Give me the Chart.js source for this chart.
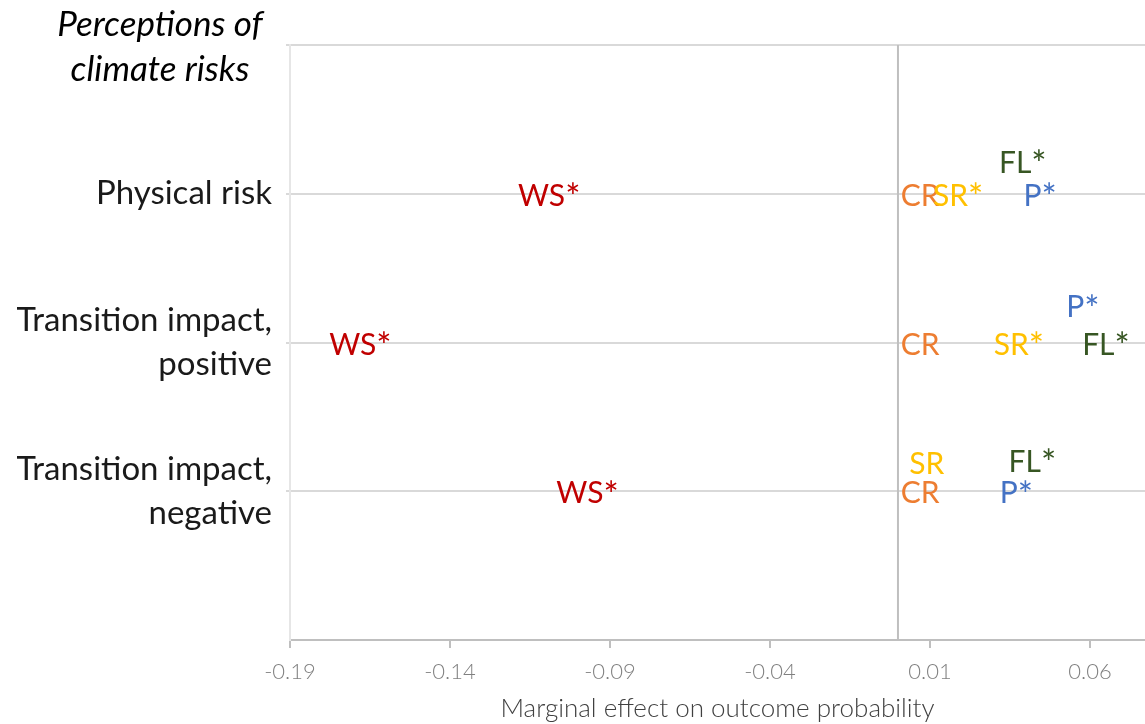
<!DOCTYPE html>
<html>
<head>
  <title>Perceptions of climate risks</title>
  <script src="https://cdn.jsdelivr.net/npm/chart.js"></script>
  <style>
    body { margin: 0; background: #fff; }
  </style>
</head>
<body>
  <canvas id="riskChart" width="1145" height="724"></canvas>
  <script>
    // Categories on the y axis (value -> label)
    const categoryValues = [3, 2, 1];
    const categoryLabels = ['Physical risk', ['Transition impact,', 'positive'], ['Transition impact,', 'negative']];

    // x ticks
    const xTickValues = [-0.19, -0.14, -0.09, -0.04, 0.01, 0.06];
    const xTickLabels = ['-0.19', '-0.14', '-0.09', '-0.04', '0.01', '0.06'];

    // Series (point x, point y, label text)
    const wsX = [-0.109, -0.168, -0.097];
    const wsY = [3, 2, 1];
    const wsText = ['WS*', 'WS*', 'WS*'];

    const crX = [0.0069, 0.0069, 0.0069];
    const crY = [3, 2, 1];
    const crText = ['CR', 'CR', 'CR'];

    const srX = [0.0188, 0.0378, 0.009];
    const srY = [3, 2, 1.2];
    const srText = ['SR*', 'SR*', 'SR'];

    const pX = [0.0444, 0.0578, 0.037];
    const pY = [3, 2.25, 1];
    const pText = ['P*', 'P*', 'P*'];

    const flX = [0.039, 0.065, 0.042];
    const flY = [3.22, 2, 1.21];
    const flText = ['FL*', 'FL*', 'FL*'];

    function points(xs, ys) {
      return xs.map((x, i) => ({ x: x, y: ys[i] }));
    }

    // label text centred on the point, with a larger asterisk
    function drawLabel(ctx, text, x, y, color) {
      const size = 30, starSize = 36;
      const star = text.endsWith('*');
      const base = star ? text.slice(0, -1) : text;
      ctx.font = size + 'px Lato';
      const wBase = ctx.measureText(base).width;
      ctx.font = starSize + 'px Lato';
      const wStar = star ? ctx.measureText('*').width : 0;
      const left = x - (wBase + wStar) / 2;
      const b = y + 12;
      ctx.fillStyle = color;
      ctx.textAlign = 'left';
      ctx.textBaseline = 'alphabetic';
      ctx.font = size + 'px Lato';
      ctx.fillText(base, left, b);
      if (star) {
        ctx.font = starSize + 'px Lato';
        ctx.fillText('*', left + wBase, b + 0.72 * (starSize - size));
      }
    }

    const textLabels = {
      id: 'textLabels',
      afterDatasetsDraw(chart) {
        const ctx = chart.ctx;
        ctx.save();
        chart.data.datasets.forEach((ds, i) => {
          const meta = chart.getDatasetMeta(i);
          meta.data.forEach((pt, j) => drawLabel(ctx, ds.texts[j], pt.x, pt.y, ds.textColor));
        });
        ctx.restore();
      }
    };

    // Zero line and the corner title
    const extras = {
      id: 'extras',
      beforeDatasetsDraw(chart) {
        const ctx = chart.ctx;
        const x0 = chart.scales.x.getPixelForValue(0);
        ctx.save();
        ctx.strokeStyle = '#bfbfbf';
        ctx.lineWidth = 2;
        ctx.beginPath();
        ctx.moveTo(x0, chart.chartArea.top);
        ctx.lineTo(x0, chart.chartArea.bottom);
        ctx.stroke();
        ctx.restore();
      },
      afterDraw(chart) {
        const ctx = chart.ctx;
        ctx.save();
        ctx.font = 'italic 35px Lato';
        ctx.fillStyle = '#000';
        ctx.textAlign = 'center';
        ctx.textBaseline = 'middle';
        ctx.fillText('Perceptions of', 160, 25);
        ctx.fillText('climate risks', 160, 70);
        ctx.restore();
      }
    };

    const ctx = document.getElementById('riskChart').getContext('2d');
    new Chart(ctx, {
      type: 'scatter',
      data: {
        datasets: [
          { label: 'WS', data: points(wsX, wsY), texts: wsText, textColor: '#c00000', pointRadius: 0 },
          { label: 'CR', data: points(crX, crY), texts: crText, textColor: '#ed7d31', pointRadius: 0 },
          { label: 'SR', data: points(srX, srY), texts: srText, textColor: '#ffc000', pointRadius: 0 },
          { label: 'P', data: points(pX, pY), texts: pText, textColor: '#4472c4', pointRadius: 0 },
          { label: 'FL', data: points(flX, flY), texts: flText, textColor: '#375623', pointRadius: 0 }
        ]
      },
      options: {
        responsive: false,
        animation: false,
        layout: { padding: { top: 45, right: 0, left: 0, bottom: 0 } },
        plugins: { legend: { display: false }, tooltip: { enabled: false } },
        scales: {
          x: {
            type: 'linear',
            min: -0.19,
            max: 0.0772,
            afterBuildTicks: scale => { scale.ticks = xTickValues.map(v => ({ value: v })); },
            afterFit: scale => { scale.height = 84; },
            ticks: {
              autoSkip: false,
              maxRotation: 0,
              padding: 11,
              color: '#808080',
              font: { family: 'Lato', size: 22, weight: 300 },
              callback: (v, i) => xTickLabels[i]
            },
            grid: { drawOnChartArea: false, tickLength: 8, color: '#bfbfbf', lineWidth: 2 },
            border: { color: '#bfbfbf', width: 2 },
            title: {
              display: true,
              text: 'Marginal effect on outcome probability',
              color: '#404040',
              font: { family: 'Lato', size: 26, weight: 300 },
              padding: { top: 0, bottom: 0 }
            }
          },
          y: {
            type: 'linear',
            min: 0,
            max: 4,
            afterBuildTicks: scale => { scale.ticks = [1, 2, 3, 4].map(v => ({ value: v })); },
            afterFit: scale => { scale.width = 290; },
            ticks: {
              autoSkip: false,
              padding: 14,
              color: '#1a1a1a',
              font: { family: 'Lato', size: 33, lineHeight: 1.333 },
              callback: v => {
                const k = categoryValues.indexOf(v);
                return k >= 0 ? categoryLabels[k] : '';
              }
            },
            grid: { color: '#d9d9d9', lineWidth: 2, tickLength: 4 },
            border: { color: '#e6e6e6', width: 2 }
          }
        }
      },
      plugins: [textLabels, extras]
    });
  </script>
</body>
</html>
